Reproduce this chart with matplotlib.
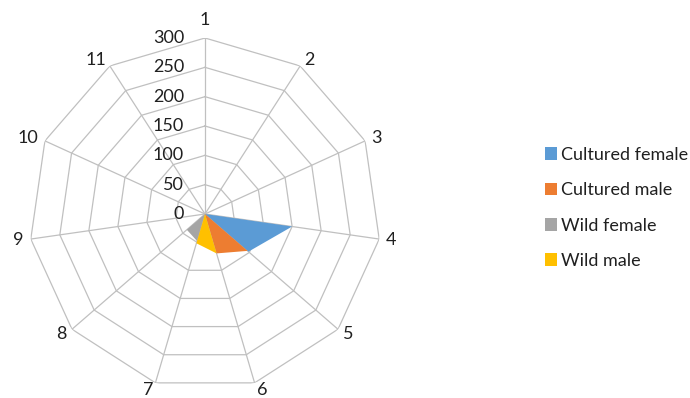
import numpy as np
import matplotlib
matplotlib.use("Agg")
import matplotlib.pyplot as plt
from matplotlib.patches import Patch

plt.rcParams['font.family'] = ['Lato', 'DejaVu Sans']

categories = ['1', '2', '3', '4', '5', '6', '7', '8', '9', '10', '11']
series_names = ['Cultured female', 'Cultured male', 'Wild female', 'Wild male']
cultured_female = [0, 0, 0, 150, 98, 0, 0, 0, 0, 0, 0]
cultured_male = [0, 0, 0, 0, 96, 70, 0, 0, 0, 0, 0]
wild_female = [0, 0, 0, 0, 0, 0, 48, 41, 0, 0, 0]
wild_male = [0, 0, 0, 0, 0, 70, 52, 0, 0, 0, 0]
radial_ticks = [0, 50, 100, 150, 200, 250, 300]
colors = ['#5B9BD5', '#ED7D31', '#A5A5A5', '#FFC000']

n = len(categories)
theta = np.arange(n) * 2 * np.pi / n
theta_closed = np.append(theta, theta[0])

fig = plt.figure(figsize=(6.9, 3.98), dpi=100)
ax = fig.add_axes([29 / 690, 8 / 398, 352 / 690, 352 / 398], projection='polar')
ax.set_theta_zero_location('N')
ax.set_theta_direction(-1)
ax.set_ylim(0, radial_ticks[-1])
ax.grid(False)
ax.spines['polar'].set_visible(False)
ax.set_xticks([])
ax.set_yticks([])
ax.patch.set_alpha(0)

grid_color = '#c0c0c0'
# polygonal rings
for r in radial_ticks[1:]:
    ax.plot(theta_closed, [r] * (n + 1), color=grid_color, lw=0.9, zorder=1)
# spokes
for t in theta:
    ax.plot([t, t], [0, radial_ticks[-1]], color=grid_color, lw=0.9, zorder=1)

# filled series
for vals, col, z in zip([cultured_female, cultured_male, wild_female, wild_male], colors, [2, 3, 4, 5]):
    v = np.append(vals, vals[0])
    ax.fill(theta_closed, v, color=col, lw=0, zorder=z)

# radial tick labels
for r in radial_ticks:
    ax.annotate(str(r), xy=(0, r), xytext=(-21, 0), textcoords='offset pixels',
                ha='right', va='center', fontsize=13, color='#202020', zorder=6)

# category labels
for t, lab in zip(theta, categories):
    s, c = np.sin(t), np.cos(t)
    ha = 'left' if s > 0.05 else ('right' if s < -0.05 else 'center')
    va = 'bottom' if c > 0.99 else 'center'
    d = 10 if c > 0.99 else 7
    ax.annotate(lab, xy=(t, radial_ticks[-1]), xytext=(s * d, c * d),
                textcoords='offset pixels', ha=ha, va=va,
                fontsize=13, color='#202020', annotation_clip=False)

handles = [Patch(facecolor=col, edgecolor='none') for col in colors]
fig.legend(handles, series_names, loc='upper left',
           bbox_to_anchor=(545 / 690, (398 - 147) / 398), frameon=False,
           fontsize=13, handlelength=0.68, handleheight=0.68,
           handletextpad=0.18, labelspacing=1.07, borderpad=0, borderaxespad=0,
           labelcolor='#202020')

fig.savefig('out.png', dpi=100)
